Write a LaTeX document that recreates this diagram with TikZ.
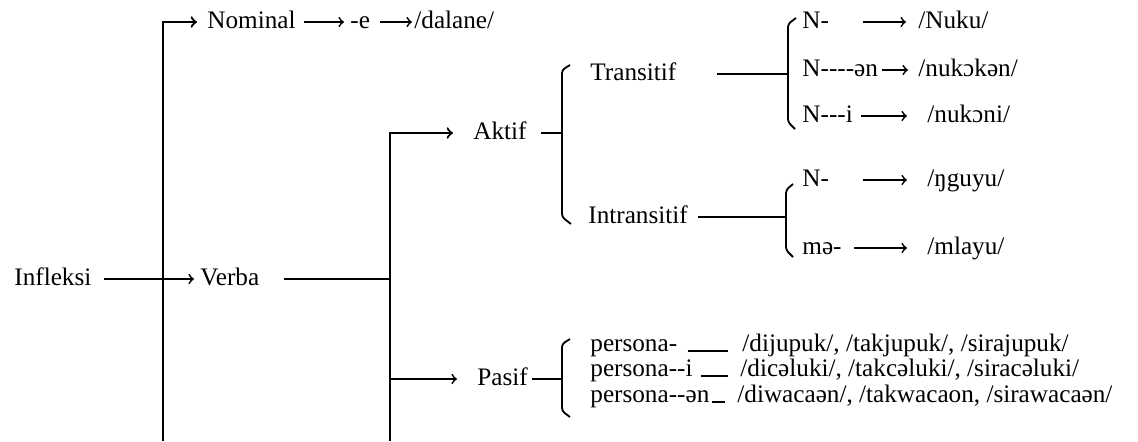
\documentclass[tikz,border=0pt]{standalone}
\usepackage{fontspec}
\setmainfont{Liberation Serif}[Ligatures=TeXOff]
\tikzset{
	txt/.style={anchor=west, inner sep=0pt, text height=9pt, text depth=3pt, font=\fontsize{12.6}{15}\selectfont},
	ln/.style={line width=0.9pt},
	bracket/.style={line width=0.9pt, rounded corners=1.5pt},
}
\begin{document}
\begin{tikzpicture}[x=0.5pt, y=-0.5pt]
				\useasboundingbox (0,0) rectangle (1138,441);
				%left part
				\node[txt] (infl) at (14,279){Infleksi};
				\node[txt] (verba) at (200,279){Verba};
				\node[txt] (nom) at (207,22){Nominal};
				\node[txt] (suf) at (350,22){-e};
				\node[txt] (dal) at (414,22){/dalane/};
				\coordinate (v1b) at (163,441);
				\draw[ln, line width=1.1pt, ->, shorten >=5pt] (v1b) |- (nom);
				\draw[ln, ->, shorten <=6pt, shorten >=3pt] (infl) -- (verba);
				\draw[ln, ->, shorten <=4pt, shorten >=3pt] (nom) -- (suf);
				\draw[ln, ->, shorten <=5pt, shorten >=1pt] (suf) -- (dal);
				
				%verba
				\node[txt] (aktif) at (473,133){Aktif};
				\node[txt] (pasif) at (477,379){Pasif};
				\coordinate (v2b) at (390,441);
				\coordinate (v2m) at (390,279);
				\coordinate (v2p) at (390,379);
				\draw[ln, shorten <=12pt] (verba) -- (v2m);
				\draw[ln, line width=1.1pt, ->, shorten >=10pt] (v2b) |- (aktif);
				\draw[ln, ->, shorten >=10pt] (v2p) -- (pasif);
				
				%aktif
				\coordinate (ja) at (562,133);
				\draw[ln, shorten <=7pt] (aktif) -- (ja);
				\draw[bracket] (570,65) -- (562,70) -- (562,217) -- (571,224);
				\node[txt] (trans) at (590,74){Transitif};
				\node[txt] (intr) at (588,217){Intransitif};
				\coordinate (jt) at (788,74);
				\coordinate (ji) at (786,217);
				\draw[ln, shorten <=20pt] (trans) -- (jt);
				\draw[ln, shorten <=5pt] (intr) -- (ji);
				\draw[bracket] (796,18) -- (788,24) -- (788,122) -- (795,129);
				\draw[bracket] (793,184) -- (786,190) -- (786,250) -- (793,257);
				
				\node[txt] (tn1) at (802,22){N-};
				\node[txt] (tn2) at (802,70){N----ən};
				\node[txt] (tn3) at (802,116){N---i};
				\node[txt] (tr1) at (918,22){/Nuku/};
				\node[txt] (tr2) at (918,70){/nukɔkən/};
				\node[txt] (tr3) at (927,116){/nukɔni/};
				\draw[ln, ->, shorten <=17pt, shorten >=6pt] (tn1) -- (tr1);
				\draw[ln, ->, shorten <=2pt, shorten >=5pt] (tn2) -- (tr2);
				\draw[ln, ->, shorten <=4pt, shorten >=10pt] (tn3) -- (tr3);
				
				\node[txt] (in1) at (802,180){N-};
				\node[txt] (in2) at (802,248){mə-};
				\node[txt] (ir1) at (927,180){/ŋguyu/};
				\node[txt] (ir2) at (927,248){/mlayu/};
				\draw[ln, ->, shorten <=17pt, shorten >=10pt] (in1) -- (ir1);
				\draw[ln, ->, shorten <=6pt, shorten >=10pt] (in2) -- (ir2);
				
				%pasif
				\coordinate (jp) at (562,379);
				\draw[ln, shorten <=2pt] (pasif) -- (jp);
				\draw[bracket] (570,339) -- (562,344) -- (562,411) -- (570,417);
				\node[txt] (ps1) at (590,345){persona-};
				\node[txt] (ps2) at (590,370){persona--i};
				\node[txt] (ps3) at (590,396){persona--ən};
				\node[txt] (pr1) at (742,345){/dijupuk/, /takjupuk/, /sirajupuk/};
				\node[txt] (pr2) at (740,370){/dicəluki/, /takcəluki/, /siracəluki/};
				\node[txt] (pr3) at (737,396){/diwacaən/, /takwacaon, /sirawacaən/};
				\draw[ln, shorten <=5pt, shorten >=7pt] (ps1.base east) -- (pr1.base west);
				\draw[ln, shorten <=4pt, shorten >=6pt] (ps2.base east) -- (pr2.base west);
				\draw[ln, shorten <=1pt, shorten >=6pt] (ps3.base east) -- (pr3.base west);
\end{tikzpicture}
\end{document}
